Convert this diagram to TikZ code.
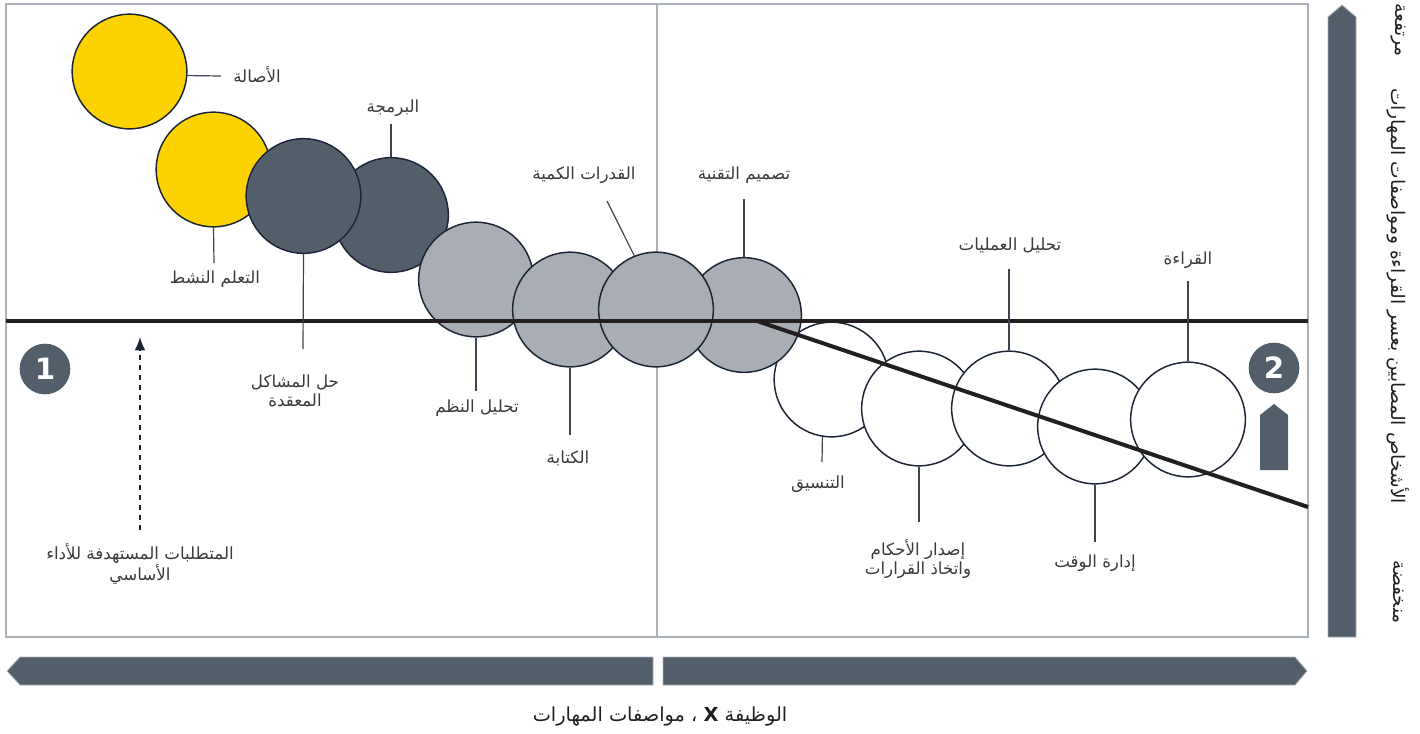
\documentclass[tikz,border=0pt]{standalone}
\usepackage{fontspec}
\setmainfont{DejaVu Sans}
\newfontfamily\arabicfont[Script=Arabic]{DejaVu Sans}
\TeXXeTstate=1
\usetikzlibrary{arrows.meta}

\definecolor{skillyellow}{HTML}{FCD200}
\definecolor{skilldark}{HTML}{535E6B}
\definecolor{skillgray}{HTML}{A8AEB4}
\definecolor{edgenavy}{HTML}{1C2536}
\definecolor{framegray}{HTML}{A9B0B7}
\definecolor{axisblack}{HTML}{231F20}
\definecolor{leadcol}{HTML}{3D4552}
\definecolor{labeltext}{HTML}{3A3A3A}

\newcommand{\artxt}[1]{{\arabicfont\beginR #1\endR}}

\tikzset{
  skill/.style={circle, draw=edgenavy, line width=1.1pt, minimum size=86pt, inner sep=0pt},
  lead/.style={leadcol, line width=0.9pt},
  lbl/.style={text=labeltext, font=\fontsize{12.5}{14.5}\selectfont, align=center, inner sep=0pt},
  badge/.style={circle, fill=skilldark, minimum size=38pt, inner sep=0pt, text=white, font=\bfseries\fontsize{22}{22}\selectfont},
  axisbar/.style={fill=skilldark, draw=framegray, line width=0.6pt},
  axistext/.style={text=axisblack, font=\fontsize{14}{15}\selectfont, rotate=-90, inner sep=0pt},
}

\begin{document}
\begin{tikzpicture}[x=0.75pt, y=-0.75pt]
  \useasboundingbox (0,0) rectangle (1420,733);

  % frame and middle divider
  \draw [framegray, line width=2pt] (6,4) rectangle (1308,637);
  \coordinate (div-t) at (657,4);
  \coordinate (div-b) at (657,637);
  \draw [framegray, line width=2.2pt] (div-t) -- (div-b);

  % skill circles
  \node [skill, fill=skillyellow] (y1) at (129.5,71.5) {};
  \node [skill, fill=skillyellow] (y2) at (213.5,169.5) {};
  \node [skill, fill=skilldark] (d2) at (391,215) {};
  \node [skill, fill=skilldark] (d1) at (303.5,196) {};
  \node [skill, fill=white] (w1) at (831.5,379.5) {};
  \node [skill, fill=white] (w2) at (919,408.5) {};
  \node [skill, fill=white] (w3) at (1009,408.5) {};
  \node [skill, fill=white] (w4) at (1095,426.5) {};
  \node [skill, fill=white] (w5) at (1188,419.5) {};
  \node [skill, fill=skillgray] (g4) at (744,315) {};
  \node [skill, fill=skillgray] (g1) at (476,279.5) {};
  \node [skill, fill=skillgray] (g2) at (570,309.5) {};
  \node [skill, fill=skillgray] (g3) at (656,309.5) {};

  % base line and falling line
  \coordinate (base-l) at (6,321);
  \coordinate (base-r) at (1308,321);
  \coordinate (fall-s) at (757,321);
  \coordinate (fall-e) at (1308,507);
  \draw [axisblack, line width=3pt] (base-l) -- (base-r);
  \draw [axisblack, line width=3pt] (fall-s) -- (fall-e);

  % leads
  \coordinate (e-y1) at (221,76);
  \coordinate (e-y2) at (214,263);
  \coordinate (e-d1) at (303,349);
  \coordinate (e-d2) at (391,124);
  \coordinate (e-g1) at (476,391);
  \coordinate (e-g2) at (570,435);
  \coordinate (e-g3) at (607,201);
  \coordinate (e-g4) at (744,199);
  \coordinate (e-w1) at (822,462);
  \coordinate (e-w2) at (919,522);
  \coordinate (e-w3) at (1009,269);
  \coordinate (e-w4) at (1095,542);
  \coordinate (e-w5) at (1188,281);
  \draw [lead] (y1.-4) -- (e-y1);
  \draw [lead] (y2.south) -- (e-y2);
  \draw [lead] (d1.south) -- (e-d1);
  \draw [lead] (d2.north) -- (e-d2);
  \draw [lead] (g1.south) -- (e-g1);
  \draw [lead] (g2.south) -- (e-g2);
  \draw [lead] (g3.112) -- (e-g3);
  \draw [lead] (g4.north) -- (e-g4);
  \draw [lead] (w1.-99) -- (e-w1);
  \draw [lead] (w2.south) -- (e-w2);
  \draw [lead] (w3.north) -- (e-w3);
  \draw [lead] (w4.south) -- (e-w4);
  \draw [lead] (w5.north) -- (e-w5);

  % labels
  \node [lbl] (t-y1) at (257,75) {\artxt{الأصالة}};
  \node [lbl] (t-y2) at (215,279) {\artxt{التعلم النشط}};
  \node [lbl] (t-d1) at (295,391) {\artxt{حل المشاكل}\\\artxt{المعقدة}};
  \node [lbl] (t-d2) at (393,108) {\artxt{البرمجة}};
  \node [lbl] (t-g1) at (477,408) {\artxt{تحليل النظم}};
  \node [lbl] (t-g2) at (568,458) {\artxt{الكتابة}};
  \node [lbl] (t-g3) at (584,175) {\artxt{القدرات الكمية}};
  \node [lbl] (t-g4) at (744,175) {\artxt{تصميم التقنية}};
  \node [lbl] (t-w1) at (818,484) {\artxt{التنسيق}};
  \node [lbl] (t-w2) at (918,559) {\artxt{إصدار الأحكام}\\\artxt{واتخاذ القرارات}};
  \node [lbl] (t-w3) at (1010,245) {\artxt{تحليل العمليات}};
  \node [lbl] (t-w4) at (1095,563) {\artxt{إدارة الوقت}};
  \node [lbl] (t-w5) at (1188,260) {\artxt{القراءة}};

  % target requirement arrow
  \coordinate (req-s) at (140,530);
  \coordinate (req-e) at (140,337);
  \draw [edgenavy, line width=1pt, dash pattern=on 4pt off 3.5pt, -{Latex[length=10pt, width=8pt]}] (req-s) -- (req-e);
  \node [lbl] (t-req) at (140,564) {\artxt{المتطلبات المستهدفة للأداء}\\\artxt{الأساسي}};

  % badges
  \node [badge] (b1) at (45,369) {1};
  \node [badge] (b2) at (1274,368) {2};
  \draw [fill=skilldark, draw=none] (1260,470) -- (1260,415) -- (1274,404) -- (1288,415) -- (1288,470) -- cycle; % small up arrow

  % axis bars
  \draw [axisbar] (653,657) -- (20,657) -- (7,671) -- (20,685) -- (653,685) -- cycle;
  \draw [axisbar] (663,657) -- (1295,657) -- (1307,671) -- (1295,685) -- (663,685) -- cycle;
  \draw [axisbar] (1328,637) -- (1328,17) -- (1342,5) -- (1356,17) -- (1356,637) -- cycle;

  % axis texts
  \node [text=axisblack, font=\fontsize{14.5}{16}\selectfont] (x-title) at (660,717) {\artxt{الوظيفة \beginL\textbf{X}\endL{} ، مواصفات المهارات}};
  \node [axistext] (y-high) at (1398,30) {\artxt{مرتفعة}};
  \node [axistext] (y-title) at (1398,296) {\artxt{الأشخاص المصابين بعسر القراءة ومواصفات المهارات}};
  \node [axistext] (y-low) at (1398,592) {\artxt{منخفضة}};
\end{tikzpicture}
\end{document}
